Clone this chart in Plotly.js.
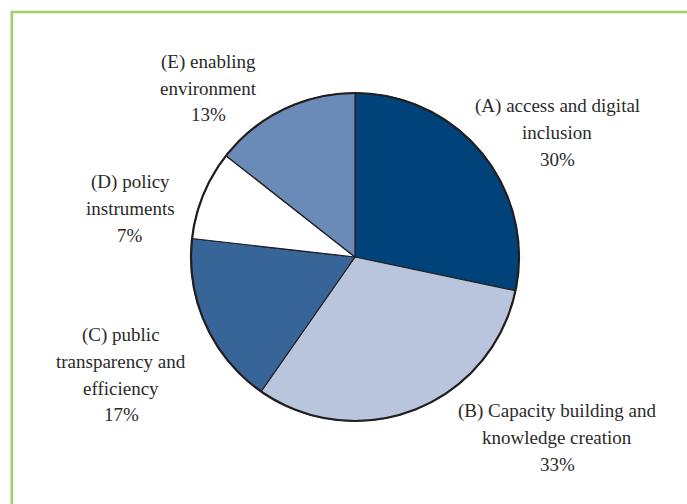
<!DOCTYPE html>
<html>
<head>
<meta charset="utf-8">
<script src="https://cdn.plot.ly/plotly-3.0.1.min.js"></script>
<style>
  html, body { margin: 0; padding: 0; background: #ffffff; }
  #chart { width: 687px; height: 504px; }
</style>
</head>
<body>
<div id="chart"></div>
<script>
// Categories and slice shares (as drawn; printed labels are rounded values)
const categories = ["A", "B", "C", "D", "E"];
const shares = [28.3, 31.4, 17.1, 8.8, 14.4];
const labelLines = [
  ["(A) access and digital", "inclusion"],
  ["(B) Capacity building and", "knowledge creation"],
  ["(C) public", "transparency and", "efficiency"],
  ["(D) policy", "instruments"],
  ["(E) enabling", "environment"]
];
const pctLabels = ["30%", "33%", "17%", "7%", "13%"];
const colors = ["#00437b", "#b9c4dd", "#386597", "#ffffff", "#6a8bb8"];

// Layout helpers (pixel positions for label blocks)
const W = 687, H = 504;
const cx = 355, cy = 257, R = 164;
const labelPos = [
  {x: 557, y: 106},
  {x: 557, y: 411},
  {x: 121, y: 335},
  {x: 130, y: 182},
  {x: 208, y: 62}
];
const lineGap = 26.5;
const fontSpec = {family: "Liberation Serif", size: 19, color: "#2a2a2a"};

const annotations = [];
categories.forEach((c, i) => {
  const lines = labelLines[i].concat([pctLabels[i]]);
  lines.forEach((t, j) => {
    annotations.push({
      text: t,
      xref: "paper", yref: "paper",
      x: labelPos[i].x / W,
      y: 1 - (labelPos[i].y + j * lineGap) / H,
      xanchor: "center", yanchor: "middle",
      showarrow: false,
      font: fontSpec
    });
  });
});

const data = [{
  type: "pie",
  labels: categories,
  values: shares,
  sort: false,
  direction: "clockwise",
  rotation: 0,
  textinfo: "none",
  hoverinfo: "label+percent",
  marker: { colors: colors, line: { color: "#231f20", width: 1.2 } },
  domain: { x: [(cx - R) / W, (cx + R) / W], y: [1 - (cy + R) / H, 1 - (cy - R) / H] },
  showlegend: false
}];

const layout = {
  width: W, height: H,
  margin: {l: 0, r: 0, t: 0, b: 0},
  paper_bgcolor: "#ffffff",
  plot_bgcolor: "#ffffff",
  showlegend: false,
  font: {family: "Liberation Serif"},
  annotations: annotations,
  shapes: [
    {
      type: "circle", xref: "paper", yref: "paper",
      x0: (cx - R) / W, x1: (cx + R) / W,
      y0: 1 - (cy + R) / H, y1: 1 - (cy - R) / H,
      line: {color: "#231f20", width: 2.2},
      fillcolor: "rgba(0,0,0,0)"
    },
    {
      type: "rect", xref: "paper", yref: "paper",
      x0: 11.8 / W, x1: 1.05,
      y0: -0.05, y1: 1 - 12 / H,
      line: {color: "#9fd06a", width: 2.6},
      fillcolor: "rgba(0,0,0,0)"
    }
  ]
};

Plotly.newPlot("chart", data, layout, {displayModeBar: false, staticPlot: true});
</script>
</body>
</html>
